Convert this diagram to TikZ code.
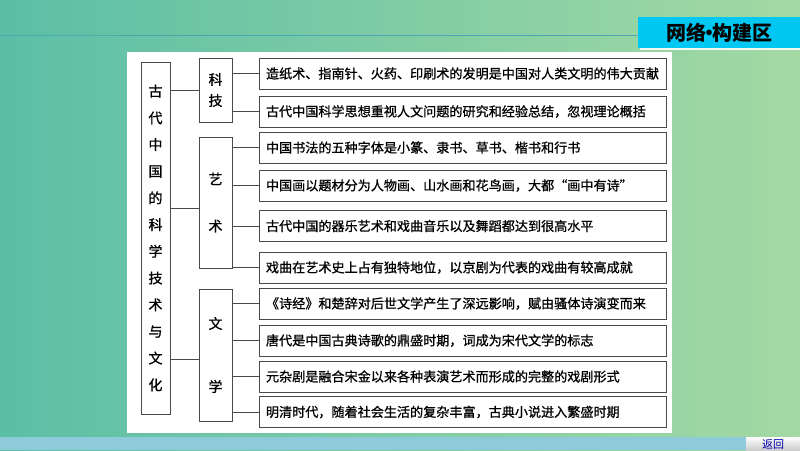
\documentclass[tikz,border=0pt]{standalone}
\usepackage{fontspec}
\newfontfamily\cjk[FakeBold=0.9]{Noto Sans CJK SC}
\newfontfamily\cjkb{Noto Sans CJK SC}
\definecolor{bgl}{HTML}{5BBFA5}
\definecolor{bgr}{HTML}{A4D9A4}
\definecolor{strip}{HTML}{8ECBDA}
\definecolor{rule}{HTML}{4AA8B5}
\definecolor{banner}{HTML}{00C8F2}
\definecolor{edge}{HTML}{4A4A4A}
\tikzset{
  box/.style={draw=edge, line width=0.9pt, fill=white, inner sep=0pt},
  itembox/.style={box, minimum width=407pt, minimum height=31pt, text width=393pt, align=left, font=\cjk\fontsize{13.1}{15}\selectfont},
  catbox/.style={box, minimum width=33pt, align=center},
  conn/.style={draw=edge, line width=0.8pt}
}
\begin{document}
\begin{tikzpicture}[x=1pt,y=-1pt]
\useasboundingbox (0,0) rectangle (800,450);
\shade[left color=bgl, right color=bgr] (0,0) rectangle (800,450);
\fill[strip] (0,437) rectangle (800,450);
\draw[rule, line width=1pt] (0,35) -- (638,35);
\fill[white!85!bgr] (640,47) rectangle (800,50);
\node[fill=banner, minimum width=162pt, minimum height=31pt, anchor=north west, font=\cjkb\bfseries\fontsize{20}{22}\selectfont, inner sep=0pt] (banner) at (638,17) {网络\kern-7pt·\kern-7pt构建区};
\fill[white] (127,52) rectangle (672,433);
% left title box
\node[box, minimum width=29pt, minimum height=352pt, align=center, font=\cjk\fontsize{14}{26.7}\selectfont] (title) at (155.5,238) {古\\代\\中\\国\\的\\科\\学\\技\\术\\与\\文\\化};
% categories
\node[catbox, minimum height=64pt, font=\cjk\fontsize{14}{21}\selectfont] (kj) at (215.5,90) {科\\技};
\node[catbox, minimum height=131pt, font=\cjk\fontsize{14}{47}\selectfont] (ys) at (215.5,202.5) {艺\\术};
\node[catbox, minimum height=132pt, font=\cjk\fontsize{14}{63}\selectfont] (wx) at (215.5,355) {文\\学};
% items
\node[itembox] (i1) at (462.5,73.5) {造纸术、指南针、火药、印刷术的发明是中国对人类文明的伟大贡献};
\node[itembox] (i2) at (462.5,111.5) {古代中国科学思想重视人文问题的研究和经验总结，忽视理论概括};
\node[itembox] (i3) at (462.5,147.5) {中国书法的五种字体是小篆、隶书、草书、楷书和行书};
\node[itembox] (i4) at (462.5,185.5) {中国画以题材分为人物画、山水画和花鸟画，大都“画中有诗”};
\node[itembox] (i5) at (462.5,226) {古代中国的器乐艺术和戏曲音乐以及舞蹈都达到很高水平};
\node[itembox] (i6) at (462.5,267.5) {戏曲在艺术史上占有独特地位，以京剧为代表的戏曲有较高成就};
\node[itembox] (i7) at (462.5,303.5) {《诗经》和楚辞对后世文学产生了深远影响，赋由骚体诗演变而来};
\node[itembox] (i8) at (462.5,340.5) {唐代是中国古典诗歌的鼎盛时期，词成为宋代文学的标志};
\node[itembox] (i9) at (462.5,376.5) {元杂剧是融合宋金以来各种表演艺术而形成的完整的戏剧形式};
\node[itembox] (i10) at (462.5,412) {明清时代，随着社会生活的复杂丰富，古典小说进入繁盛时期};
% connectors title -> categories
\draw[conn] (kj.west -| title.east) -- (kj.west);
\draw[conn] ([yshift=-6pt]ys.west -| title.east) -- ([yshift=-6pt]ys.west);
\draw[conn] ([yshift=-4pt]wx.west -| title.east) -- ([yshift=-4pt]wx.west);
% connectors categories -> items
\foreach \c/\i in {kj/i1,kj/i2,ys/i3,ys/i4,ys/i5,ys/i6,wx/i7,wx/i8,wx/i9,wx/i10}{
  \draw[conn] (\i.west -| \c.east) -- (\i.west);
}
% return button
\shade[top color=white, bottom color=black!20] (746,437) rectangle (800,450);
\node[font=\cjkb\fontsize{11}{12}\selectfont, text=blue!70!black, inner sep=0pt] (ret) at (773,444) {返回};
\end{tikzpicture}
\end{document}
